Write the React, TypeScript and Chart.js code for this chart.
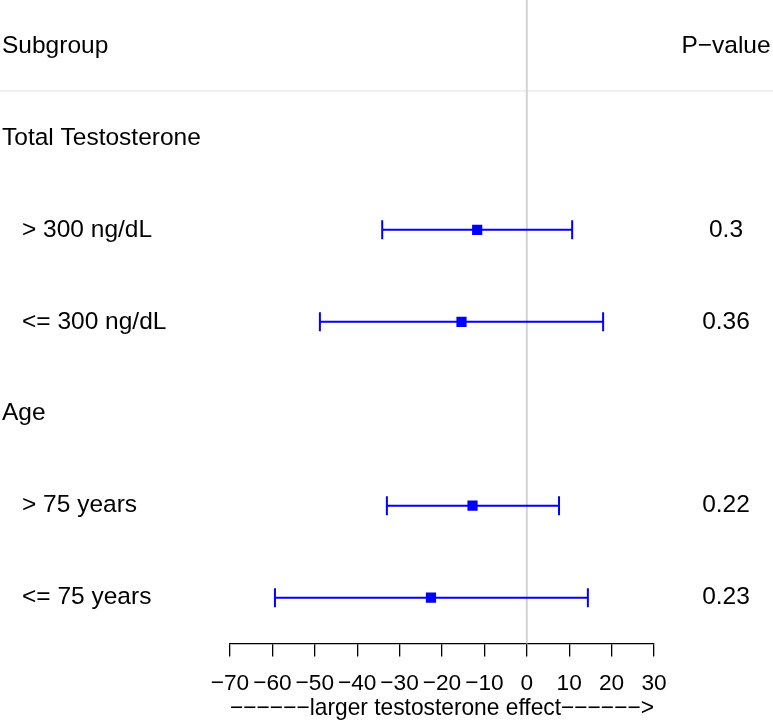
import React, { useEffect, useRef } from "react";
import { Chart, registerables } from "chart.js";

Chart.register(...registerables);

const rowLabels = ["Subgroup", "Total Testosterone", "> 300 ng/dL", "<= 300 ng/dL", "Age", "> 75 years", "<= 75 years"];
const rowIndent = [false, false, true, true, false, true, true];
const pValues = ["P\u2212value", "", "0.3", "0.36", "", "0.22", "0.23"];
const estimates = [null, null, -11.7, -15.4, null, -12.8, -22.6];
const lowerCI = [null, null, -34.1, -48.8, null, -33.0, -59.4];
const upperCI = [null, null, 10.7, 18.0, null, 7.6, 14.4];
const xTicks = [-70, -60, -50, -40, -30, -20, -10, 0, 10, 20, 30];
const DASHES = "\u2212\u2212\u2212\u2212\u2212\u2212";
const xTitle = DASHES + "larger testosterone effect" + DASHES + ">";

const FONT = "'Liberation Sans', Arial, Helvetica, sans-serif";

export default function App() {
  const ref = useRef<HTMLCanvasElement>(null);
  useEffect(() => {
    document.body.style.margin = "0";
    const canvas = ref.current!;
    const points = estimates
      .map((v, i) => (v === null ? null : { x: v, y: i }))
      .filter((p) => p !== null) as { x: number; y: number }[];

    const forestPlugin = {
      id: "forest",
      beforeDatasetsDraw(chart: any) {
        const { ctx, chartArea, scales } = chart;
        const xs = scales.x;
        const ys = scales.y;
        ctx.save();
        // separator line
        const sepY = (ys.getPixelForValue(0) + ys.getPixelForValue(1)) / 2 - 1;
        ctx.strokeStyle = "#ebebeb";
        ctx.lineWidth = 1.5;
        ctx.beginPath();
        ctx.moveTo(0, sepY);
        ctx.lineTo(chart.width, sepY);
        ctx.stroke();
        // zero line
        const x0 = xs.getPixelForValue(0);
        ctx.strokeStyle = "#d3d3d3";
        ctx.lineWidth = 2;
        ctx.beginPath();
        ctx.moveTo(x0, 0);
        ctx.lineTo(x0, chartArea.bottom);
        ctx.stroke();
        // error bars
        ctx.strokeStyle = "#0000ff";
        ctx.lineWidth = 2;
        for (let i = 0; i < estimates.length; i++) {
          const lo = lowerCI[i];
          const hi = upperCI[i];
          if (lo === null || hi === null) continue;
          const y = ys.getPixelForValue(i);
          const xl = xs.getPixelForValue(lo);
          const xh = xs.getPixelForValue(hi);
          ctx.beginPath();
          ctx.moveTo(xl, y);
          ctx.lineTo(xh, y);
          ctx.moveTo(xl, y - 9.5);
          ctx.lineTo(xl, y + 9.5);
          ctx.moveTo(xh, y - 9.5);
          ctx.lineTo(xh, y + 9.5);
          ctx.stroke();
        }
        ctx.restore();
      },
      afterDraw(chart: any) {
        const { ctx, scales } = chart;
        const ys = scales.y;
        ctx.save();
        ctx.fillStyle = "#000";
        ctx.font = `24.5px ${FONT}`;
        ctx.textBaseline = "middle";
        for (let i = 0; i < rowLabels.length; i++) {
          const y = ys.getPixelForValue(i);
          ctx.textAlign = "left";
          ctx.fillText(rowLabels[i], rowIndent[i] ? 22 : 2, y);
          if (pValues[i]) {
            ctx.textAlign = "center";
            ctx.fillText(pValues[i], 726, y);
          }
        }
        ctx.restore();
      },
    };

    const chart = new Chart(canvas, {
      type: "scatter",
      data: {
        datasets: [
          {
            data: points,
            pointStyle: "rect",
            pointRadius: 7.2,
            pointHoverRadius: 7.2,
            backgroundColor: "#0000ff",
            borderColor: "#0000ff",
            borderWidth: 0,
          },
        ],
      },
      options: {
        responsive: false,
        animation: false,
        events: [],
        layout: { autoPadding: false, padding: { left: 230, right: 119, top: 0, bottom: 1 } },
        plugins: { legend: { display: false }, tooltip: { enabled: false } },
        scales: {
          x: {
            type: "linear",
            min: -70,
            max: 30,
            afterBuildTicks: (axis: any) => {
              axis.ticks = xTicks.map((v) => ({ value: v }));
            },
            ticks: {
              color: "#000",
              font: { family: FONT, size: 22.7, lineHeight: 1 },
              padding: 15.5,
              maxRotation: 0,
              autoSkip: false,
              callback: (v: any) => (Number(v) < 0 ? "\u2212" + Math.abs(Number(v)) : String(v)),
            },
            grid: { display: true, drawOnChartArea: false, drawTicks: true, tickLength: 13, color: "#000", lineWidth: 1.3 },
            border: { display: true, color: "#000", width: 1.3 },
            title: {
              display: true,
              text: xTitle,
              color: "#000",
              font: { family: FONT, size: 23.2, lineHeight: 1 },
              padding: { top: -13.5, bottom: 0 },
            },
          },
          y: {
            type: "linear",
            display: false,
            min: -0.5,
            max: 6.5,
            reverse: true,
          },
        },
      },
      plugins: [forestPlugin],
    });
    return () => chart.destroy();
  }, []);
  return (
    <canvas
      ref={ref}
      width={773}
      height={721}
      style={{ display: "block", position: "absolute", left: 0, top: 0, width: 773, height: 721 }}
    />
  );
}
